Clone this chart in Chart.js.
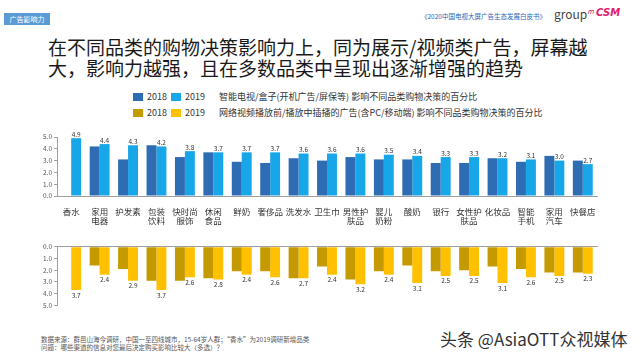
<!DOCTYPE html>
<html>
<head>
<meta charset="utf-8">
<script src="https://cdn.jsdelivr.net/npm/chart.js@4/dist/chart.umd.min.js"></script>
<style>
  body { margin: 0; background: #fff; font-family: "Noto Sans CJK SC", "Noto Sans", sans-serif; }
  #page { position: relative; width: 640px; height: 360px; overflow: hidden; }
  .abs { position: absolute; white-space: nowrap; }
  #tag { left: 4px; top: 13px; width: 46px; height: 12px; background: #5b9bd5; color: #fff; font-size: 7px; line-height: 12px; text-align: center; }
  #source { left: 421px; top: 11px; font-size: 6.5px; color: #2e64b5; }
  #groupm { left: 554px; top: 5px; font-size: 12px; color: #444; }
  #groupm sup { font-size: 7px; font-style: italic; color: #c0206a; }
  #csm { left: 596px; top: 7px; font-size: 10px; font-weight: bold; font-style: italic; color: #e0206a; font-family: "DejaVu Sans", sans-serif; }
  #title { left: 48px; top: 36px; font-size: 19px; line-height: 21px; color: #1a1a1a; }
  .legend { font-size: 9px; color: #333; line-height: 10px; }
  .sw { display: inline-block; width: 10px; height: 8px; vertical-align: -1px; margin-right: 4px; }
  #footer { left: 41px; top: 336px; font-size: 6.5px; line-height: 7.5px; color: #555; }
  #mark { left: 440px; top: 326px; font-size: 17px; color: #333; }
  canvas { position: absolute; left: 0; }
</style>
</head>
<body>
<div id="page">
  <div id="tag" class="abs">广告影响力</div>
  <div id="source" class="abs">《2020中国电视大屏广告生态发展白皮书》</div>
  <div id="groupm" class="abs">group<sup>m</sup></div>
  <div id="csm" class="abs">CSM</div>
  <div id="title" class="abs">在不同品类的购物决策影响力上，同为展示/视频类广告，屏幕越<br>大，影响力越强，且在多数品类中呈现出逐渐增强的趋势</div>

  <div class="abs legend" style="left:133px; top:92px;"><span class="sw" style="background:#2e6cb3"></span>2018&nbsp;&nbsp;<span class="sw" style="background:#17a6e8"></span>2019</div>
  <div class="abs legend" style="left:219px; top:92px;">智能电视/盒子(开机广告/屏保等) 影响不同品类购物决策的百分比</div>
  <div class="abs legend" style="left:133px; top:108px;"><span class="sw" style="background:#c49a00"></span>2018&nbsp;&nbsp;<span class="sw" style="background:#ffc000"></span>2019</div>
  <div class="abs legend" style="left:219px; top:108px;">网络视频播放前/播放中插播的广告(含PC/移动端) 影响不同品类购物决策的百分比</div>

  <canvas id="tvChart" width="640" height="110" style="top:125px;"></canvas>
  <canvas id="videoChart" width="640" height="80" style="top:235px;"></canvas>

  <div id="footer" class="abs">数据来源：群邑山海今调研，中国一至四线城市，15-64岁人群；“香水”为2019调研新增品类<br>问题：哪些渠道的信息对您最后决定购买影响比较大（多选）？</div>
  <div id="mark" class="abs">头条 @AsiaOTT众视媒体</div>
</div>

<script>
// categories (x axis)
const categories = [
  ['香水'], ['家用', '电器'], ['护发素'], ['包装', '饮料'], ['快时尚', '服饰'],
  ['休闲', '食品'], ['鲜奶'], ['奢侈品'], ['洗发水'], ['卫生巾'],
  ['男性护', '肤品'], ['婴儿', '奶粉'], ['酸奶'], ['银行'], ['女性护', '肤品'],
  ['化妆品'], ['智能', '手机'], ['家用', '汽车'], ['快餐店']
];

// smart TV / box ads
const tv2018 = [null, 4.2, 3.1, 4.3, 3.3, 3.7, 2.9, 2.8, 3.2, 3.0, 3.3, 3.1, 3.1, 2.8, 2.8, 3.2, 2.9, 3.4, 3.0];
const tv2019 = [4.9, 4.4, 4.3, 4.2, 3.8, 3.7, 3.7, 3.7, 3.6, 3.6, 3.6, 3.5, 3.4, 3.3, 3.3, 3.2, 3.1, 3.0, 2.7];

// online video pre-roll / mid-roll ads
const video2018 = [null, 1.6, 1.9, 2.9, 2.9, 2.7, 2.1, 2.1, 2.7, 1.7, 2.8, 2.1, 1.6, 2.1, 2.0, 1.7, 1.9, 2.2, 2.2];
const video2019 = [3.7, 2.4, 2.9, 3.7, 2.6, 2.8, 2.4, 2.6, 2.7, 2.4, 3.2, 2.4, 3.1, 2.5, 2.5, 3.1, 2.6, 2.5, 2.3];

const yTicks = [0, 1, 2, 3, 4, 5];

const FONT = '"Noto Sans CJK SC", "Noto Sans", sans-serif';
const AXIS_COLOR = '#a0a0a0';

// value labels on the 2019 series
const valueLabels = {
  id: 'valueLabels',
  afterDatasetsDraw(chart, args, opts) {
    const ctx = chart.ctx;
    const meta = chart.getDatasetMeta(1);
    ctx.save();
    ctx.font = '6.5px ' + FONT;
    ctx.fillStyle = '#333';
    ctx.textAlign = 'center';
    ctx.textBaseline = 'middle';
    meta.data.forEach((bar, i) => {
      const v = chart.data.datasets[1].data[i];
      if (v == null) return;
      ctx.fillText(v.toFixed(1), bar.x, bar.y + opts.offset);
    });
    ctx.restore();
  }
};

function yScale(reverse) {
  return {
    min: 0,
    max: 5,
    reverse: reverse,
    afterFit: s => { s.width = 57; },
    afterBuildTicks: s => { s.ticks = yTicks.map(v => ({ value: v })); },
    border: { display: true, color: AXIS_COLOR },
    grid: { drawOnChartArea: false, tickLength: 3, color: AXIS_COLOR },
    ticks: {
      font: { size: 6.5, family: FONT },
      color: '#555',
      padding: 2,
      callback: v => v.toFixed(1)
    }
  };
}

function barDataset(label, data, color) {
  return {
    label: label,
    data: data,
    backgroundColor: color,
    categoryPercentage: 0.7,
    barPercentage: 1.0
  };
}

function createTvChart() {
  new Chart(document.getElementById('tvChart'), {
    type: 'bar',
    data: {
      labels: categories,
      datasets: [
        barDataset('2018', tv2018, '#2e6cb3'),
        barDataset('2019', tv2019, '#17a6e8')
      ]
    },
    options: {
      responsive: false,
      animation: false,
      layout: { padding: { top: 12, right: 43, left: 0, bottom: 0 } },
      plugins: { legend: { display: false }, tooltip: { enabled: false }, valueLabels: { offset: -4 } },
      scales: {
        x: {
          afterFit: s => { s.height = 39; },
          border: { display: true, color: AXIS_COLOR },
          grid: { display: false },
          ticks: {
            font: { size: 8.5, family: FONT, lineHeight: 1.05 },
            color: '#333',
            padding: 3,
            maxRotation: 0,
            autoSkip: false
          }
        },
        y: yScale(false)
      }
    },
    plugins: [valueLabels]
  });
}

function createVideoChart() {
  new Chart(document.getElementById('videoChart'), {
    type: 'bar',
    data: {
      labels: categories,
      datasets: [
        barDataset('2018', video2018, '#c49a00'),
        barDataset('2019', video2019, '#ffc000')
      ]
    },
    options: {
      responsive: false,
      animation: false,
      layout: { padding: { top: 11.7, right: 43, left: 0, bottom: 9.7 } },
      plugins: { legend: { display: false }, tooltip: { enabled: false }, valueLabels: { offset: 5 } },
      scales: {
        x: {
          position: 'top',
          afterFit: s => { s.height = 0; },
          border: { display: true, color: AXIS_COLOR },
          grid: { display: false, drawTicks: false },
          ticks: { display: false }
        },
        y: yScale(true)
      }
    },
    plugins: [valueLabels]
  });
}

createTvChart();
createVideoChart();
</script>
</body>
</html>
